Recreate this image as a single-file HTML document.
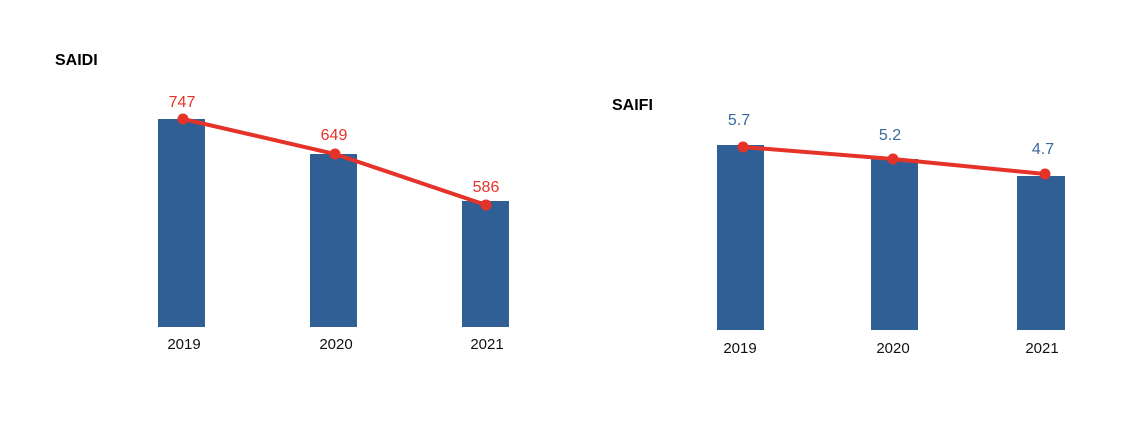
<!DOCTYPE html>
<html><head><style>body{margin:0;background:#fff}</style></head><body>
<svg width="1130" height="417" xmlns="http://www.w3.org/2000/svg" font-family="Liberation Sans, sans-serif">
<rect width="1130" height="417" fill="#fff"/>
<text x="55" y="65" font-size="16" font-weight="bold" fill="#000">SAIDI</text>
<text x="612" y="110" font-size="16" font-weight="bold" fill="#000">SAIFI</text>
<g fill="#2f5f94">
<rect x="158" y="119" width="47" height="208"/>
<rect x="310" y="154" width="47" height="173"/>
<rect x="462" y="201" width="47" height="126"/>
<rect x="717" y="145" width="47" height="185"/>
<rect x="871" y="159" width="47" height="171"/>
<rect x="1017" y="176" width="48" height="154"/>
</g>
<g stroke="#e5332a" stroke-width="4" fill="none">
<polyline points="183,119 335,154 486,205"/>
<polyline points="743,147 893,159 1045,174"/>
</g>
<g fill="#e5332a">
<circle cx="183" cy="119" r="5.5"/><circle cx="335" cy="154" r="5.5"/><circle cx="486" cy="205" r="5.5"/>
<circle cx="743" cy="147" r="5.5"/><circle cx="893" cy="159" r="5.5"/><circle cx="1045" cy="174" r="5.5"/>
</g>
<g font-size="16" fill="#e5332a" text-anchor="middle">
<text x="182" y="107">747</text><text x="334" y="140">649</text><text x="486" y="192">586</text>
</g>
<g font-size="16" fill="#3a6a9c" text-anchor="middle">
<text x="739" y="125">5.7</text><text x="890" y="140">5.2</text><text x="1043" y="154">4.7</text>
</g>
<g font-size="15" fill="#111" text-anchor="middle">
<text x="184" y="349">2019</text><text x="336" y="349">2020</text><text x="487" y="349">2021</text>
<text x="740" y="353">2019</text><text x="893" y="353">2020</text><text x="1042" y="353">2021</text>
</g>
</svg>
</body></html>
